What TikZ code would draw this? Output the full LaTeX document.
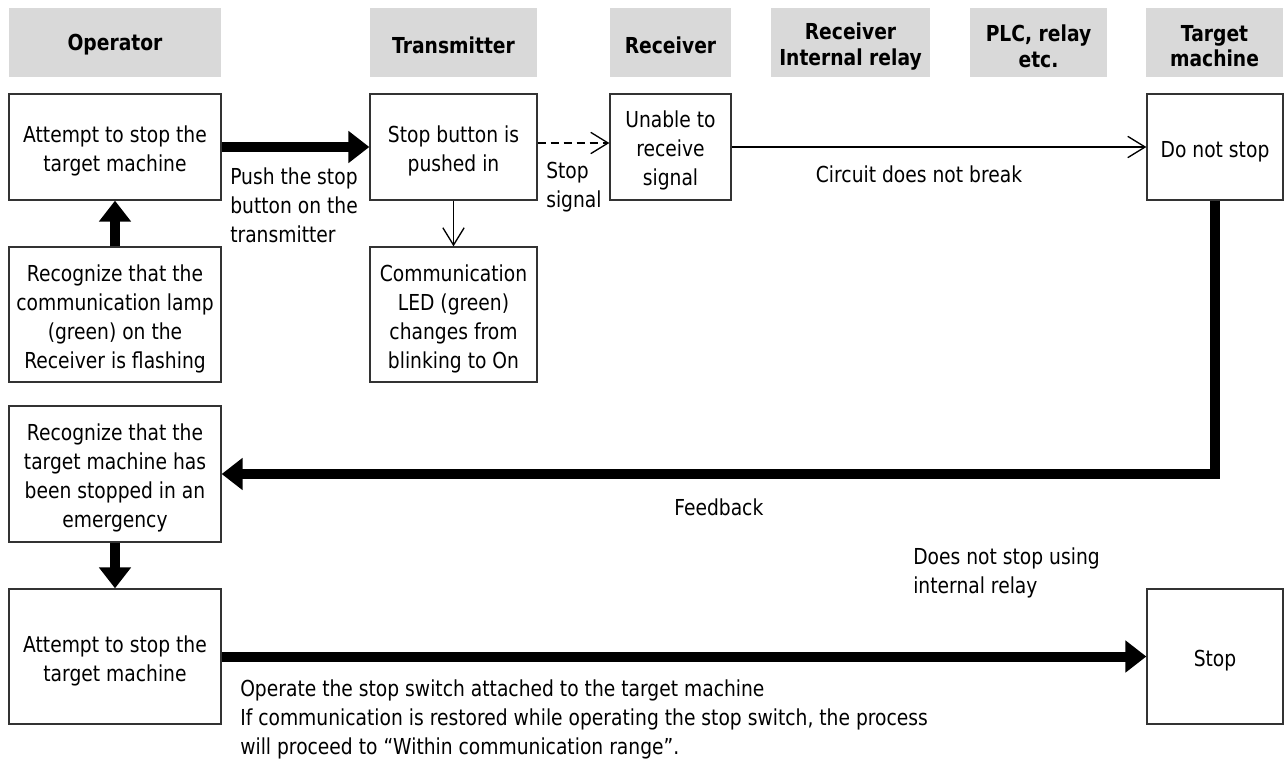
\documentclass[tikz,border=0pt]{standalone}
\usepackage{fontspec}
\setmainfont{DejaVu Sans}[FakeStretch=0.85]
\usetikzlibrary{arrows.meta}
\definecolor{hdrgray}{HTML}{D9D9D9}
\definecolor{boxline}{HTML}{333333}
\begin{document}
\begin{tikzpicture}[x=0.75pt,y=-0.75pt,
  font=\fontsize{16.5pt}{21.75pt}\selectfont,
  hdr/.style={fill=hdrgray, inner sep=0pt, minimum height=51.75pt},
  hdrtxt/.style={inner sep=0pt, align=center,
    font=\bfseries\fontsize{16.5pt}{19.3pt}\selectfont},
  box/.style={draw=boxline, line width=1pt, fill=white, inner sep=0pt},
  boxtxt/.style={inner sep=0pt, align=center},
  lbl/.style={inner sep=0pt, align=left, anchor=west},
  thickarrow/.style={line width=7.5pt, -{Triangle[length=15.75pt,width=23.25pt]}},
  thinarrow/.style={line width=1pt, -{Straight Barb[length=13pt,width=16pt]}}]
\fill[white] (0,0) rectangle (1284,760);
\useasboundingbox (0,0) rectangle (1284,760);
% headers
\node[hdr, minimum width=159pt] (hOp) at (115,42.5) {};
\node[hdr, minimum width=125.25pt] (hTx) at (453.5,42.5) {};
\node[hdr, minimum width=90.75pt] (hRx) at (670.5,42.5) {};
\node[hdr, minimum width=119.25pt] (hRIR) at (850.5,42.5) {};
\node[hdr, minimum width=102.75pt] (hPLC) at (1038.5,42.5) {};
\node[hdr, minimum width=102.75pt] (hTM) at (1214.5,42.5) {};
\node[hdrtxt] (tOp) at ([yshift=-1.8pt]hOp.center) {Operator};
\node[hdrtxt] (tTx) at ([yshift=-1.8pt]hTx.center) {Transmitter};
\node[hdrtxt] (tRx) at ([yshift=-1.8pt]hRx.center) {Receiver};
\node[hdrtxt] (tRIR) at ([yshift=-2.8pt]hRIR.center) {Receiver\\Internal relay};
\node[hdrtxt] (tPLC) at ([yshift=-2.8pt]hPLC.center) {PLC, relay\\etc.};
\node[hdrtxt] (tTM) at ([yshift=-2.8pt]hTM.center) {Target\\machine};
% boxes
\node[box, minimum width=159pt, minimum height=79.5pt] (a1) at (115,147) {};
\node[box, minimum width=125.25pt, minimum height=79.5pt] (tx) at (453.5,147) {};
\node[box, minimum width=90.75pt, minimum height=79.5pt] (rx) at (670.5,147) {};
\node[box, minimum width=102pt, minimum height=79.5pt] (dn) at (1215,147) {};
\node[box, minimum width=159pt, minimum height=101.25pt] (rec1) at (115,314.5) {};
\node[box, minimum width=125.25pt, minimum height=101.25pt] (led) at (453.5,314.5) {};
\node[box, minimum width=159pt, minimum height=102pt] (rec2) at (115,474) {};
\node[box, minimum width=159pt, minimum height=101.25pt] (a2) at (115,656.5) {};
\node[box, minimum width=102pt, minimum height=101.25pt] (stop) at (1215,656.5) {};
\node[boxtxt] (ta1) at ([yshift=-3pt]a1.center) {Attempt to stop the\\target machine};
\node[boxtxt] (ttx) at ([yshift=-3pt]tx.center) {Stop button is\\pushed in};
\node[boxtxt] (trx) at ([yshift=-2.5pt]rx.center) {Unable to\\receive\\signal};
\node[boxtxt] (tdn) at ([yshift=-3.5pt]dn.center) {Do not stop};
\node[boxtxt] (trec1) at ([yshift=-3pt]rec1.center) {Recognize that the\\communication lamp\\(green) on the\\Receiver is flashing};
\node[boxtxt] (tled) at ([yshift=-3pt]led.center) {Communication\\LED (green)\\changes from\\blinking to On};
\node[boxtxt] (trec2) at ([yshift=-3pt]rec2.center) {Recognize that the\\target machine has\\been stopped in an\\emergency};
\node[boxtxt] (ta2) at ([yshift=-3pt]a2.center) {Attempt to stop the\\target machine};
\node[boxtxt] (tstop) at ([yshift=-3pt]stop.center) {Stop};
% labels
\node[lbl] (l1) at (230,205) {Push the stop\\button on the\\transmitter};
\node[lbl] (l2) at (546,187) {Stop\\signal};
\node[inner sep=0pt] (l3) at (919,174) {Circuit does not break};
\node[lbl] (l4) at (674,507) {Feedback};
\node[lbl] (l5) at (913,573) {Does not stop using\\internal relay};
\node[lbl] (l6) at (240,719) {Operate the stop switch attached to the target machine\\If communication is restored while operating the stop switch, the process\\will proceed to “Within communication range”.};
% connectors
\draw[thickarrow] (a1.east) -- (tx.west);
\draw[thickarrow] (rec1.north) -- (a1.south);
\draw[thickarrow, line join=miter] (dn.south) -- (dn.south |- rec2.east) -- (rec2.east);
\draw[thickarrow] (rec2.south) -- (a2.north);
\draw[thickarrow] (a2.east) -- (stop.west);
\draw[thinarrow] (tx.south) -- (led.north);
\draw[thinarrow, dash pattern=on 6pt off 3.75pt] ([yshift=3pt]tx.east) -- ([yshift=3pt]rx.west);
\draw[thinarrow] (rx.east) -- (dn.west);
\end{tikzpicture}
\end{document}
